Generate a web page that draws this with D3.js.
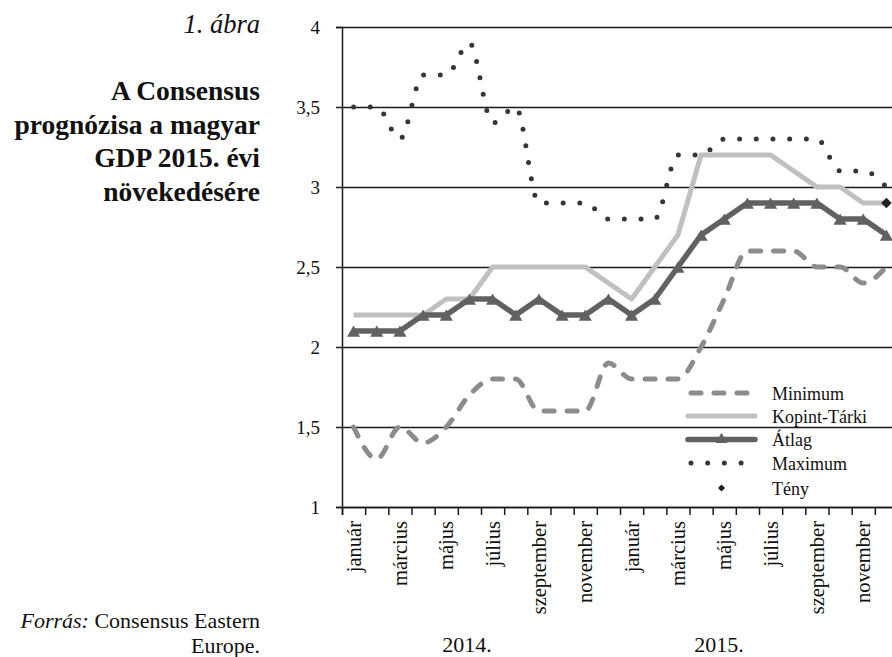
<!DOCTYPE html>
<html>
<head>
<meta charset="utf-8">
<script src="https://cdn.jsdelivr.net/npm/d3@7"></script>
<style>
	body { margin: 0; background: #fff; }
	svg { display: block; font-family: "Liberation Serif", "Times New Roman", serif; }
</style>
</head>
<body>
<svg id="chart" width="892" height="657"></svg>
<script>
const monthNames = ["január", "február", "március", "április", "május", "június",
	"július", "augusztus", "szeptember", "október", "november", "december"];
const years = ["2014.", "2015."];
const categories = years.flatMap(y => monthNames.map(m => y + " " + m));

const minimum = [1.5, 1.3, 1.5, 1.4, 1.5, 1.7, 1.8, 1.8, 1.6, 1.6, 1.6, 1.9,
	1.8, 1.8, 1.8, 2.0, 2.3, 2.6, 2.6, 2.6, 2.5, 2.5, 2.4, 2.5];
const kopint = [2.2, 2.2, 2.2, 2.2, 2.3, 2.3, 2.5, 2.5, 2.5, 2.5, 2.5, 2.4,
	2.3, 2.5, 2.7, 3.2, 3.2, 3.2, 3.2, 3.1, 3.0, 3.0, 2.9, 2.9];
const atlag = [2.1, 2.1, 2.1, 2.2, 2.2, 2.3, 2.3, 2.2, 2.3, 2.2, 2.2, 2.3,
	2.2, 2.3, 2.5, 2.7, 2.8, 2.9, 2.9, 2.9, 2.9, 2.8, 2.8, 2.7];
const maximum = [3.5, 3.5, 3.3, 3.7, 3.7, 3.9, 3.4, 3.5, 2.9, 2.9, 2.9, 2.8,
	2.8, 2.8, 3.2, 3.2, 3.3, 3.3, 3.3, 3.3, 3.3, 3.1, 3.1, 3.0];
const teny = [{ index: 23, value: 2.9 }];
const yTicks = [1, 1.5, 2, 2.5, 3, 3.5, 4];

const svg = d3.select("#chart");

const plotLeft = 342, plotRight = 898, plotTop = 27, plotBottom = 507;

const x = d3.scaleBand()
	.domain(d3.range(categories.length))
	.range([plotLeft, plotRight]);
const xEdge = d3.scaleLinear()
	.domain([0, categories.length])
	.range([plotLeft, plotRight]);
const y = d3.scaleLinear()
	.domain([1, 4])
	.range([plotBottom, plotTop]);

const fmt = v => String(v).replace(".", ",");

// gridlines
svg.append("g")
	.attr("transform", `translate(${plotLeft},0)`)
	.call(d3.axisLeft(y).tickValues(yTicks).tickSize(-(plotRight - plotLeft)).tickFormat(""))
	.call(g => g.select(".domain").remove())
	.call(g => g.selectAll("line").attr("stroke", "#1a1a1a").attr("stroke-width", 1.5));

// y axis
svg.append("g")
	.attr("transform", `translate(${plotLeft},0)`)
	.call(d3.axisLeft(y).tickValues(yTicks).tickSize(6).tickPadding(16).tickFormat(fmt))
	.call(g => g.select(".domain").attr("stroke", "#1a1a1a").attr("stroke-width", 1.5))
	.call(g => g.selectAll("line").attr("stroke", "#1a1a1a").attr("stroke-width", 1.5))
	.call(g => g.selectAll("text")
		.attr("font-family", "Liberation Serif")
		.attr("font-size", 19)
		.attr("fill", "#111"));

// x axis ticks on band edges
svg.append("g")
	.attr("transform", `translate(0,${plotBottom})`)
	.call(d3.axisBottom(xEdge).tickValues(d3.range(categories.length + 1)).tickSize(8).tickFormat(""))
	.call(g => g.select(".domain").attr("stroke", "#1a1a1a").attr("stroke-width", 1.5))
	.call(g => g.selectAll("line").attr("stroke", "#1a1a1a").attr("stroke-width", 1.5));

// x labels, every second month
svg.append("g")
	.attr("transform", `translate(0,${plotBottom})`)
	.call(d3.axisBottom(x)
		.tickValues(d3.range(0, categories.length, 2))
		.tickSize(0)
		.tickFormat(i => monthNames[i % 12]))
	.call(g => g.select(".domain").remove())
	.call(g => g.selectAll("text")
		.attr("font-family", "Liberation Serif")
		.attr("font-size", 20.5)
		.attr("fill", "#111")
		.attr("transform", "rotate(-90)")
		.attr("text-anchor", "end")
		.attr("x", -14)
		.attr("y", 0)
		.attr("dy", "0.35em"));

svg.append("g")
	.selectAll("text")
	.data(years)
	.join("text")
	.attr("x", (d, i) => [467, 719][i])
	.attr("y", 652)
	.attr("text-anchor", "middle")
	.attr("font-size", 22)
	.attr("fill", "#111")
	.text(d => d);

const cx = i => x(i) + x.bandwidth() / 2;

const lineStraight = d3.line()
	.x((d, i) => cx(i))
	.y(d => y(d));
const lineSmooth = d3.line()
	.x((d, i) => cx(i))
	.y(d => y(d))
	.curve(d3.curveMonotoneX);

const series = [
	{ name: "Minimum", data: minimum, line: lineSmooth, color: "#8c8c8c", width: 5, dash: "10 13" },
	{ name: "Kopint-Tárki", data: kopint, line: lineStraight, color: "#c0c0c0", width: 5, dash: null },
	{ name: "Átlag", data: atlag, line: lineStraight, color: "#616161", width: 5.5, dash: null, marker: true },
	{ name: "Maximum", data: maximum, line: lineSmooth, color: "#363636", width: 5, dash: "0 16.7" }
];

const plot = svg.append("g");

series.forEach(s => {
	plot.append("path")
		.datum(s.data)
		.attr("fill", "none")
		.attr("stroke", s.color)
		.attr("stroke-width", s.width)
		.attr("stroke-linecap", s.dash ? "round" : "butt")
		.attr("stroke-linejoin", "round")
		.attr("stroke-dasharray", s.dash)
		.attr("d", s.line);

	if (s.marker) {
		plot.append("g")
			.selectAll("path")
			.data(s.data)
			.join("path")
			.attr("transform", (d, i) => `translate(${cx(i)},${y(d) + 2})`)
			.attr("d", d3.symbol(d3.symbolTriangle, 75))
			.attr("fill", s.color);
	}
});

// diamond = square turned by 45 degrees
plot.append("g")
	.selectAll("path")
	.data(teny)
	.join("path")
	.attr("transform", d => `translate(${cx(d.index)},${y(d.value)}) rotate(45)`)
	.attr("d", d3.symbol(d3.symbolSquare, 56))
	.attr("fill", "#222");

// legend
const legendRows = [393, 416, 439.5, 463, 488];
const legend = svg.append("g");
const lx0 = 688, lx1 = 755, ltx = 772;

series.forEach((s, i) => {
	const ly = legendRows[i];
	legend.append("line")
		.attr("x1", s.dash ? lx0 + 3 : lx0)
		.attr("x2", s.dash ? lx1 - 3 : lx1)
		.attr("y1", ly)
		.attr("y2", ly)
		.attr("stroke", s.color)
		.attr("stroke-width", s.width)
		.attr("stroke-linecap", "round")
		.attr("stroke-dasharray", s.dash);
	if (s.marker) {
		legend.append("path")
			.attr("transform", `translate(${(lx0 + lx1) / 2},${ly})`)
			.attr("d", d3.symbol(d3.symbolTriangle, 60))
			.attr("fill", s.color);
	}
	legend.append("text")
		.attr("x", ltx)
		.attr("y", ly + 6.5)
		.attr("font-size", 18)
		.attr("fill", "#111")
		.text(s.name);
});

legend.append("path")
	.attr("transform", `translate(${(lx0 + lx1) / 2},${legendRows[4]}) rotate(45)`)
	.attr("d", d3.symbol(d3.symbolSquare, 26))
	.attr("fill", "#222");
legend.append("text")
	.attr("x", ltx)
	.attr("y", legendRows[4] + 6.5)
	.attr("font-size", 18)
	.attr("fill", "#111")
	.text("Tény");

// title block
const side = svg.append("g")
	.attr("text-anchor", "end")
	.attr("fill", "#111");

side.append("text")
	.attr("x", 260)
	.attr("y", 33)
	.attr("font-size", 26.5)
	.attr("font-style", "italic")
	.text("1. ábra");

const titleLines = ["A Consensus", "prognózisa a magyar", "GDP 2015. évi", "növekedésére"];
side.append("g")
	.selectAll("text")
	.data(titleLines)
	.join("text")
	.attr("x", 260)
	.attr("y", (d, i) => 100 + i * 33.7)
	.attr("font-size", 27.5)
	.attr("font-weight", "bold")
	.text(d => d);

const source = side.append("text")
	.attr("x", 260)
	.attr("y", 628)
	.attr("font-size", 22);
source.append("tspan").attr("font-style", "italic").text("Forrás:");
source.append("tspan").text(" Consensus Eastern");
side.append("text")
	.attr("x", 260)
	.attr("y", 653)
	.attr("font-size", 22)
	.text("Europe.");
</script>
</body>
</html>
